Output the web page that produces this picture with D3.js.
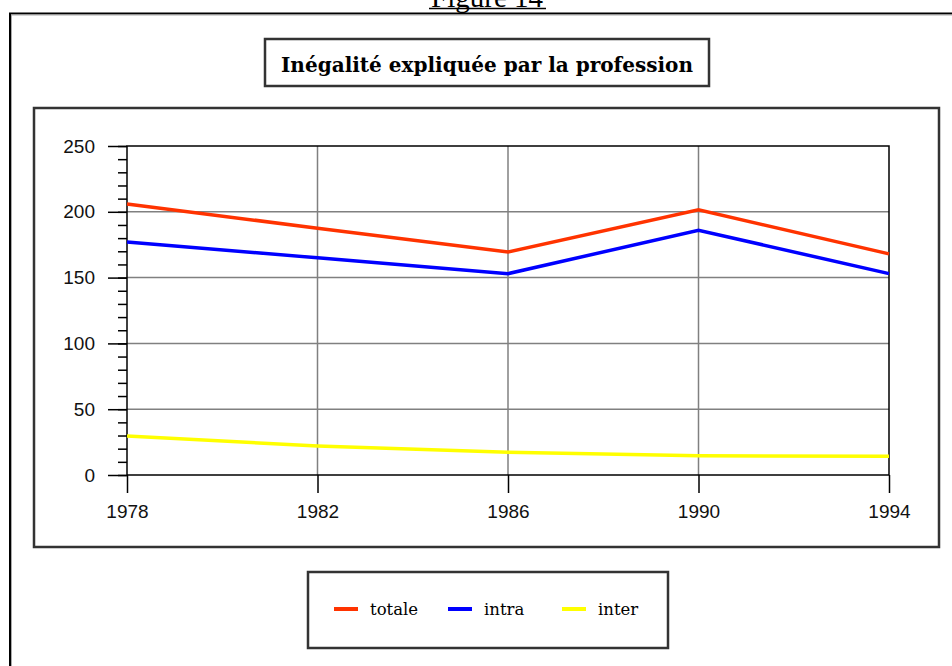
<!DOCTYPE html>
<html>
<head>
<meta charset="utf-8">
<script src="https://cdn.jsdelivr.net/npm/d3@7"></script>
<style>
  body { margin: 0; background: #fff; }
  svg { display: block; }
</style>
</head>
<body>
<svg id="chart" width="952" height="666"></svg>
<script>
// valeurs
var years = [1978, 1982, 1986, 1990, 1994];
var totale = [206, 187.5, 169.5, 201.5, 168];
var intra = [177, 165, 153, 186, 153];
var inter = [29.6, 22, 17.3, 14.6, 14.3];
var yTicks = [0, 50, 100, 150, 200, 250];
var seriesNames = ["totale", "intra", "inter"];
var seriesColors = ["#ff3300", "#0000ff", "#ffff00"];

var svg = d3.select("#chart");

var x = d3.scaleLinear().domain([1978, 1994]).range([127, 889]);
var y = d3.scaleLinear().domain([0, 250]).range([475, 146]);

function draw_line(pts) {
    return d3.line().x(function(d) { return d.x; }).y(function(d) { return d.y; })(pts);
}

// "Figure 14" : le haut est coupé par le bord de la page, comme sur l'original
svg.append("text")
    .attr("x", 487).attr("y", 7)
    .attr("text-anchor", "middle")
    .attr("textLength", 112)
    .style("font-family", "'Liberation Serif', serif")
    .style("font-size", "29px")
    .text("Figure 14");
svg.append("line")
    .attr("x1", 429).attr("x2", 546).attr("y1", 8.5).attr("y2", 8.5)
    .style("stroke", "#000").style("stroke-width", 1.5);

// cadre extérieur
svg.append("rect")
    .attr("x", 10).attr("y", 13.5).attr("width", 1000).attr("height", 700)
    .style("fill", "none").style("stroke", "#000").style("stroke-width", 2);
svg.append("rect")
    .attr("x", 11.5).attr("y", 15).attr("width", 1000).attr("height", 700)
    .style("fill", "none").style("stroke", "#aaa").style("stroke-width", 1);

function box(x0, y0, w, h) {
    svg.append("rect")
        .attr("x", x0).attr("y", y0).attr("width", w).attr("height", h)
        .style("fill", "none").style("stroke", "#333").style("stroke-width", 2.5);
}

// titre
box(265, 39, 444, 47);
svg.append("text")
    .attr("x", 487).attr("y", 72)
    .attr("text-anchor", "middle")
    .attr("textLength", 412)
    .attr("lengthAdjust", "spacingAndGlyphs")
    .style("font-family", "'DejaVu Serif', serif")
    .style("font-weight", "bold")
    .style("font-size", "21px")
    .text("Inégalité expliquée par la profession");

// zone du graphique
box(34, 108, 905, 439);

var g = svg.append("g");

// grille
g.selectAll(".hgrid")
    .data(yTicks.filter(function(d) { return d > 0 && d < 250; }))
    .enter().append("line")
    .attr("x1", x(1978)).attr("x2", x(1994))
    .attr("y1", function(d) { return y(d); })
    .attr("y2", function(d) { return y(d); })
    .style("stroke", "#808080").style("stroke-width", 1.5);
g.selectAll(".vgrid")
    .data(years.slice(1, -1))
    .enter().append("line")
    .attr("x1", function(d) { return x(d); })
    .attr("x2", function(d) { return x(d); })
    .attr("y1", y(250)).attr("y2", y(0))
    .style("stroke", "#808080").style("stroke-width", 1.5);

// axe y avec petites graduations
var yAxis = d3.axisLeft(y).tickValues(yTicks).tickSize(19).tickPadding(13);
var yMinor = d3.axisLeft(y).tickValues(d3.range(0, 251, 10)).tickSize(9).tickFormat("");
var ya = g.append("g").attr("transform", "translate(" + x(1978) + ",0)").call(yAxis);
g.append("g").attr("transform", "translate(" + x(1978) + ",0)").call(yMinor)
    .select(".domain").remove();
ya.select(".domain").remove();

var xAxis = d3.axisBottom(x).tickValues(years).tickFormat(d3.format("d")).tickSize(18).tickPadding(12);
var xa = g.append("g").attr("transform", "translate(0," + y(0) + ")").call(xAxis);
xa.select(".domain").remove();

svg.selectAll(".tick line").style("stroke", "#000").style("stroke-width", 1.5);
svg.selectAll(".tick text")
    .style("font-family", "'Liberation Sans', Arial, sans-serif")
    .style("font-size", "19px")
    .style("fill", "#111");

// cadre du tracé
g.append("path")
    .attr("d", draw_line([{x: x(1978), y: y(250)}, {x: x(1994), y: y(250)},
                          {x: x(1994), y: y(0)}, {x: x(1978), y: y(0)}]) + "Z")
    .style("fill", "none").style("stroke", "#000").style("stroke-width", 1.5);

// séries
var series = [totale, intra, inter];
var line = d3.line()
    .x(function(d, i) { return x(years[i]); })
    .y(function(d) { return y(d); });
g.selectAll(".serie")
    .data(series)
    .enter().append("path")
    .attr("class", "serie")
    .attr("d", function(d) { return line(d); })
    .style("fill", "none")
    .style("stroke", function(d, i) { return seriesColors[i]; })
    .style("stroke-width", 3.5);

// légende
box(308, 572, 360, 76);
var leg = svg.selectAll(".leg")
    .data(seriesNames)
    .enter().append("g")
    .attr("transform", function(d, i) { return "translate(" + (334 + i * 114) + ",609)"; });
leg.append("line")
    .attr("x1", 0).attr("x2", 24).attr("y1", 0).attr("y2", 0)
    .style("stroke", function(d, i) { return seriesColors[i]; })
    .style("stroke-width", 4);
leg.append("text")
    .attr("x", 36).attr("y", 6)
    .style("font-family", "'DejaVu Serif', serif")
    .style("font-size", "16.5px")
    .text(function(d) { return d; });
</script>
</body>
</html>
